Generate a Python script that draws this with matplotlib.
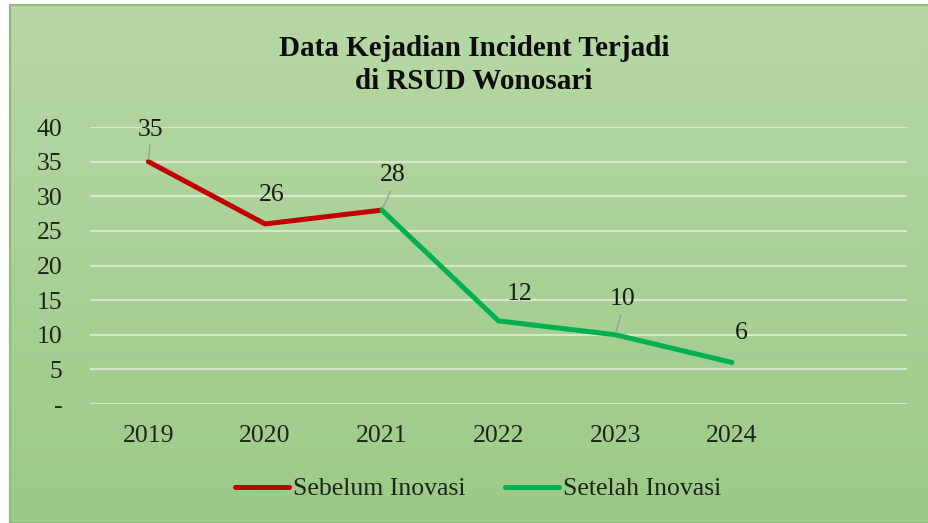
import numpy as np
import matplotlib
matplotlib.use("Agg")
import matplotlib.pyplot as plt
from matplotlib.colors import LinearSegmentedColormap
from matplotlib.patches import Rectangle

# ---- data ----
categories = ["2019", "2020", "2021", "2022", "2023", "2024", ""]
before_x = ["2019", "2020", "2021"]
before_vals = [35, 26, 28]
after_x = ["2021", "2022", "2023", "2024"]
after_vals = [28, 12, 10, 6]
yticks = [0, 5, 10, 15, 20, 25, 30, 35, 40]
ytick_labels = ["-", "5", "10", "15", "20", "25", "30", "35", "40"]
title = "Data Kejadian Incident Terjadi\ndi RSUD Wonosari"
series_names = ["Sebelum Inovasi", "Setelah Inovasi"]

# label placement (pixel offsets) and whether a leader line is shown
label_pts = [("2019", 35), ("2020", 26), ("2021", 28), ("2022", 12), ("2023", 10), ("2024", 6)]
label_offsets = [(2, 32), (7, 29), (11, 35), (21, 27), (7, 36), (9, 29)]
label_leader = [True, False, True, False, True, False]

plt.rcParams['font.family'] = ['Liberation Serif', 'DejaVu Serif']

W, H, DPI = 929, 523, 100
fig = plt.figure(figsize=(W / DPI, H / DPI), dpi=DPI, facecolor="white")

# gradient background panel
bg = fig.add_axes([10 / W, 0, 1 - 10 / W, 1 - 5 / H], zorder=-5)
cmap = LinearSegmentedColormap.from_list("g", ["#b7d8a6", "#a9d196", "#9dca88"])
grad = np.linspace(0, 1, 256).reshape(-1, 1)
bg.imshow(grad, aspect="auto", cmap=cmap, extent=[0, 1, 0, 1], origin="upper")
bg.set_xlim(0, 1); bg.set_ylim(0, 1)
bg.axis("off")
fig.patches.append(Rectangle((10 / W, 0), 1 - 10 / W, 1 - 5 / H, transform=fig.transFigure,
                             fill=False, edgecolor="#8ebc7a", lw=1.5, zorder=-4))

ax = fig.add_axes([90 / W, 1 - 404 / H, (907 - 90) / W, (404 - 127) / H])
ax.patch.set_alpha(0)

idx = {c: i for i, c in enumerate(categories)}
xb = [idx[c] for c in before_x]
xa = [idx[c] for c in after_x]
ax.plot(xb, before_vals, color="#c00000", lw=3.6, solid_capstyle="round",
        solid_joinstyle="round", label=series_names[0], zorder=3)
ax.plot(xa, after_vals, color="#00b050", lw=3.6, solid_capstyle="round",
        solid_joinstyle="round", label=series_names[1], zorder=3)

ax.set_xlim(-0.5, len(categories) - 0.5)
ax.set_ylim(0, 40)
ax.set_yticks(yticks)
ax.set_yticklabels(ytick_labels)
ax.set_xticks(range(len(categories)))
ax.set_xticklabels(categories)
ax.tick_params(axis="both", length=0, labelsize=18.5, colors="#1c2618")
ax.tick_params(axis="y", pad=20)
ax.tick_params(axis="x", pad=15)
for s in ax.spines.values():
    s.set_visible(False)
ax.yaxis.grid(True, color="#d6e8cc", lw=1.6)
ax.set_axisbelow(True)

for (c, v), (dx, dy), lead in zip(label_pts, label_offsets, label_leader):
    x = idx[c]
    ax.annotate(str(v), (x, v), xytext=(dx * 0.72, dy * 0.72), textcoords="offset points",
                ha="center", va="center", fontsize=18.5, color="#1a1a1a", zorder=5)
    if lead:
        ax.annotate("", (x, v), xytext=(dx * 0.72 * 0.8, dy * 0.72 * 0.55),
                    textcoords="offset points",
                    arrowprops=dict(arrowstyle="-", color="#9a9a9a", lw=0.9,
                                    shrinkA=0, shrinkB=1.5), zorder=4)

fig.text(474 / W, 1 - 65 / H, title, ha="center", va="center", fontsize=21,
         fontweight="bold", color="#0d0d0d", linespacing=1.28)

fig.legend(loc="center", bbox_to_anchor=(478 / W, 1 - 489 / H), ncol=2, frameon=False,
           fontsize=18.5, handlelength=2.1, handletextpad=0.15, columnspacing=1.55,
           labelcolor="#1c2618")

fig.savefig("out.png", dpi=DPI, facecolor="white")
